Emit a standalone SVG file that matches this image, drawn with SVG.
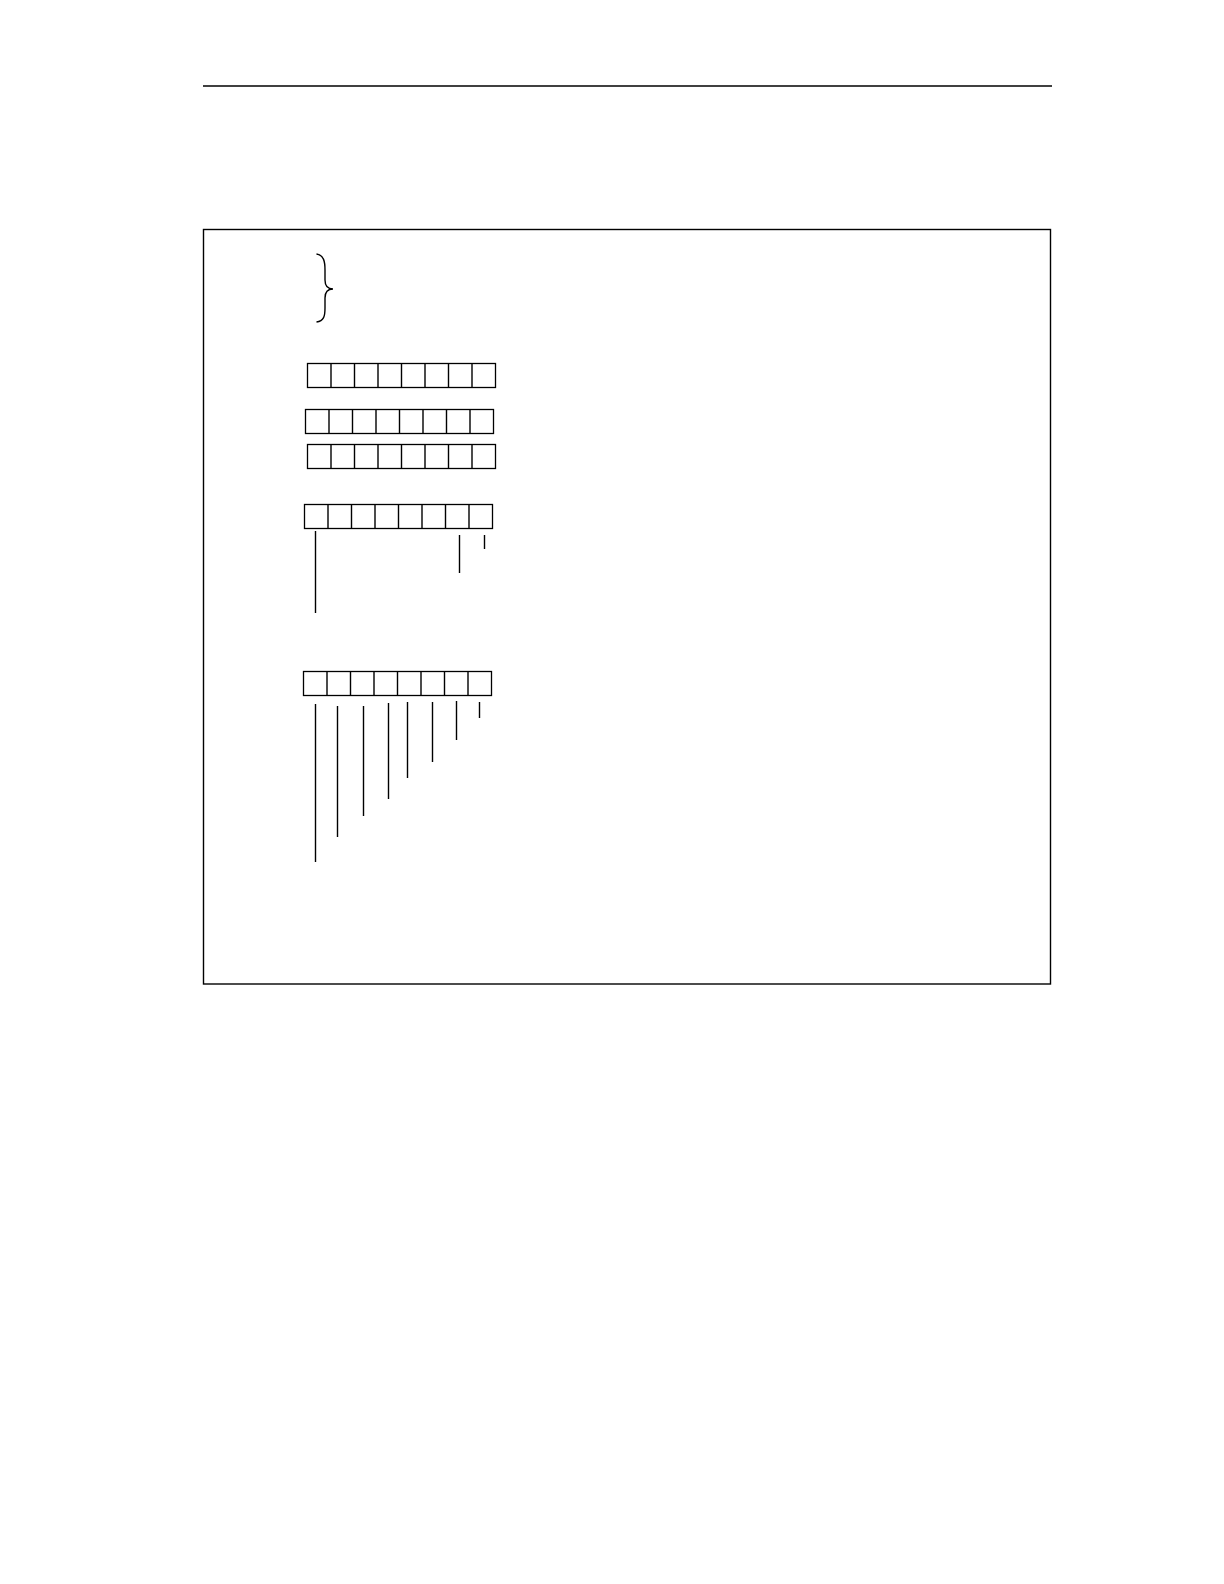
<svg xmlns="http://www.w3.org/2000/svg" width="1224" height="1584" viewBox="0 0 1224 1584">
<style>
.ln{stroke:#000;stroke-width:1.4;fill:none}
.cell{stroke:#000;stroke-width:1.3;fill:#fff}
</style>
<defs>
<g id="reg">
<rect class="cell" x="0" y="0" width="188" height="24"/>
<path class="ln" d="M23.5,0V24M47,0V24M70.5,0V24M94,0V24M117.5,0V24M141,0V24M164.5,0V24"/>
</g>
</defs>
<rect width="1224" height="1584" fill="#fff"/>
<line id="header-rule" class="ln" x1="203" y1="86" x2="1052" y2="86" stroke-width="1.6"/>
<rect id="frame" class="ln" x="203.5" y="229.5" width="847" height="754.5"/>
<g id="brace">
<path class="ln" d="M316.5,254 C324,255 325,262 325,270 L325,280 C325,286 328,289 333,289 C328,289 325,292 325,298 L325,308 C325,316 324,321 316.5,322"/>
</g>
<g id="reg1"><use href="#reg" x="307.5" y="363.5"/></g>
<g id="reg2"><use href="#reg" x="305.5" y="409.5"/></g>
<g id="reg3"><use href="#reg" x="307.5" y="444.5"/></g>
<g id="reg4"><use href="#reg" x="304.5" y="504.5"/></g>
<g id="reg5"><use href="#reg" x="303.5" y="671.5"/></g>
<g id="connectors">
<line class="ln" x1="315.5" y1="531" x2="315.5" y2="613"/>
<line class="ln" x1="459.5" y1="535" x2="459.5" y2="573"/>
<line class="ln" x1="484.5" y1="535" x2="484.5" y2="549"/>
<line class="ln" x1="315.5" y1="704" x2="315.5" y2="862"/>
<line class="ln" x1="337.5" y1="706" x2="337.5" y2="837"/>
<line class="ln" x1="363.5" y1="706" x2="363.5" y2="816"/>
<line class="ln" x1="388.5" y1="703" x2="388.5" y2="799"/>
<line class="ln" x1="407.5" y1="702" x2="407.5" y2="778"/>
<line class="ln" x1="432.5" y1="702" x2="432.5" y2="762"/>
<line class="ln" x1="456.5" y1="701" x2="456.5" y2="740"/>
<line class="ln" x1="479.5" y1="702" x2="479.5" y2="718"/>
</g>
</svg>
